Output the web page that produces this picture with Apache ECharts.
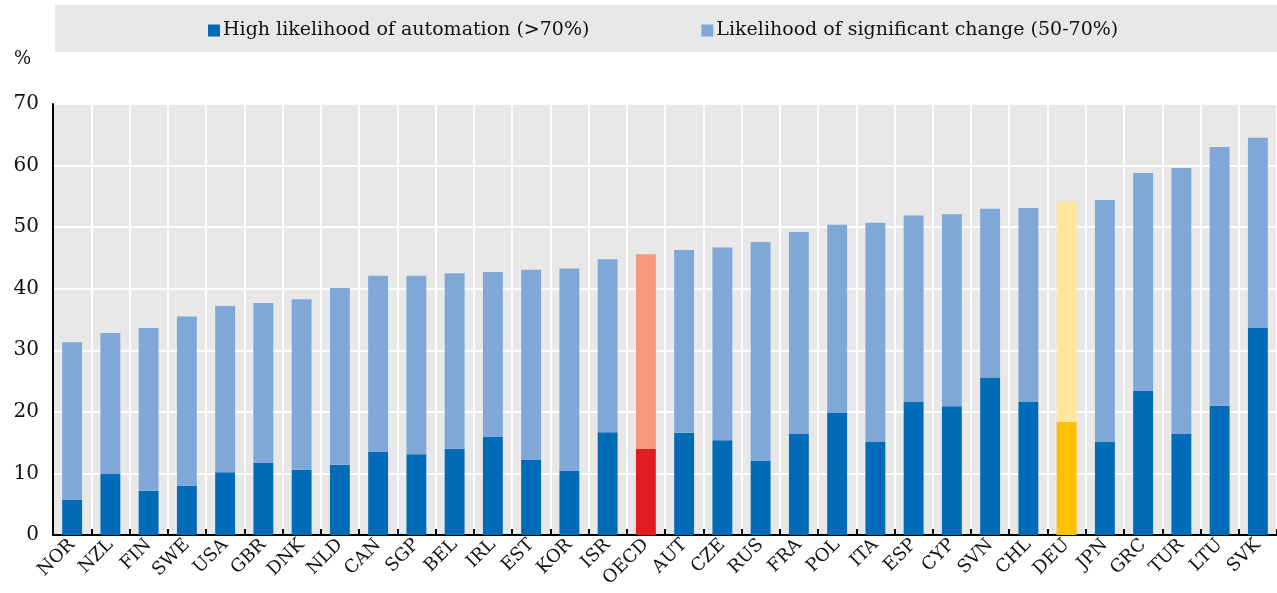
<!DOCTYPE html>
<html>
<head>
<meta charset="utf-8">
<script src="https://cdn.jsdelivr.net/npm/echarts@6/dist/echarts.min.js"></script>
<style>
    html, body { margin: 0; padding: 0; background: #fff; }
    #chart { width: 1277px; height: 593px; }
</style>
</head>
<body>
<div id="chart"></div>
<script>
// Countries, sorted by total share
const countries = ['NOR','NZL','FIN','SWE','USA','GBR','DNK','NLD','CAN','SGP','BEL','IRL','EST','KOR','ISR','OECD',
    'AUT','CZE','RUS','FRA','POL','ITA','ESP','CYP','SVN','CHL','DEU','JPN','GRC','TUR','LTU','SVK'];

// High likelihood of automation (>70%)
const highRisk = [5.7, 9.9, 7.2, 8.0, 10.2, 11.7, 10.6, 11.4, 13.5, 13.1, 14.0, 15.9, 12.2, 10.4, 16.7, 14.0,
    16.6, 15.4, 12.1, 16.4, 19.8, 15.1, 21.6, 20.9, 25.6, 21.6, 18.4, 15.1, 23.4, 16.4, 21.0, 33.6];

// Total incl. significant change (50-70%)
const totals = [31.3, 32.8, 33.6, 35.5, 37.2, 37.7, 38.3, 40.1, 42.1, 42.1, 42.5, 42.7, 43.1, 43.3, 44.8, 45.6,
    46.3, 46.7, 47.6, 49.2, 50.4, 50.7, 51.9, 52.1, 53.0, 53.1, 54.2, 54.4, 58.8, 59.6, 63.0, 64.5];

const changeRisk = totals.map((t, i) => Math.round((t - highRisk[i]) * 10) / 10);

const yTicks = [0, 10, 20, 30, 40, 50, 60, 70];

const highlight = {
    'OECD': ['#e01b22', '#f5997a'],
    'DEU': ['#ffc000', '#ffe79f']
};

const serif = 'Georgia, "DejaVu Serif", serif';

const chart = echarts.init(document.getElementById('chart'));

chart.setOption({
    animation: false,
    textStyle: { fontFamily: serif },
    graphic: [{
        type: 'rect',
        z: -1,
        shape: { x: 55, y: 5, width: 1222, height: 47 },
        style: { fill: '#e8e8e8' }
    }, {
        type: 'rect',
        z: -1,
        shape: { x: 53, y: 104, width: 1224, height: 431 },
        style: { fill: '#e8e8e8' }
    }],
    legend: {
        top: 16,
        left: 203,
        itemWidth: 12,
        itemHeight: 12,
        itemGap: 112,
        icon: 'rect',
        textStyle: { fontFamily: serif, fontSize: 19, color: '#111', padding: [0, 0, 0, -2] },
        data: ['High likelihood of automation (>70%)', 'Likelihood of significant change (50-70%)']
    },
    grid: { left: 53, right: -4, top: 104, bottom: 58, containLabel: false },
    xAxis: {
        type: 'category',
        data: countries,
        axisLine: { lineStyle: { color: '#000', width: 2 } },
        axisTick: { show: true, inside: true, length: 6, interval: 0, lineStyle: { color: '#000', width: 2 } },
        splitLine: { show: true, interval: 0, lineStyle: { color: '#fff', width: 2 } },
        axisLabel: {
            interval: 0,
            rotate: 45,
            margin: 7,
            fontFamily: serif,
            fontSize: 18,
            color: '#111'
        }
    },
    yAxis: {
        type: 'value',
        min: yTicks[0],
        max: yTicks[yTicks.length - 1],
        interval: 10,
        name: '%',
        nameLocation: 'end',
        nameGap: 36,
        nameTextStyle: { fontFamily: serif, fontSize: 18, color: '#111', align: 'right', padding: [0, 22, 0, 0] },
        axisLine: { show: true, lineStyle: { color: '#000', width: 2 } },
        axisTick: { show: false },
        splitLine: { show: true, lineStyle: { color: '#fff', width: 2 } },
        axisLabel: { fontFamily: serif, fontSize: 20, color: '#111', margin: 14 }
    },
    series: [{
        name: 'High likelihood of automation (>70%)',
        type: 'bar',
        stack: 'total',
        barWidth: '52%',
        itemStyle: { color: '#006bb6' },
        data: highRisk.map((v, i) => {
            const h = highlight[countries[i]];
            return h ? { value: v, itemStyle: { color: h[0] } } : v;
        })
    }, {
        name: 'Likelihood of significant change (50-70%)',
        type: 'bar',
        stack: 'total',
        barWidth: '52%',
        itemStyle: { color: '#7fa8d8' },
        data: changeRisk.map((v, i) => {
            const h = highlight[countries[i]];
            return h ? { value: v, itemStyle: { color: h[1] } } : v;
        })
    }]
});
</script>
</body>
</html>
